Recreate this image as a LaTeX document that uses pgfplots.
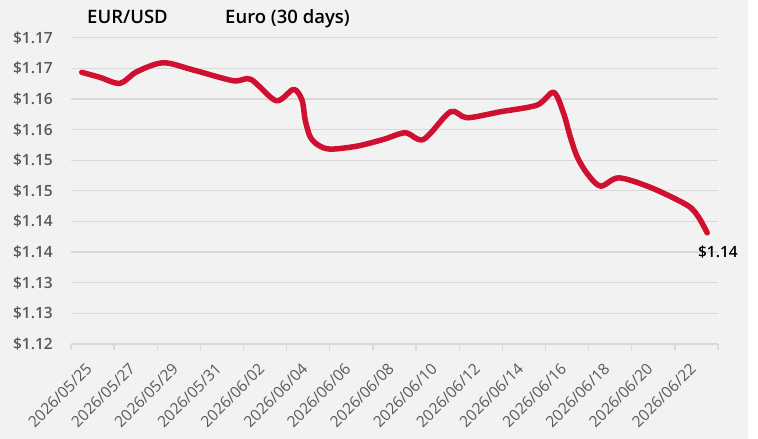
\documentclass[border=0pt]{standalone}
\usepackage{pgfplots}
\pgfplotsset{compat=1.18}
\usepackage{fontspec}
\setmainfont{Open Sans}
\IfFontExistsTF{Open Sans SemiBold}{\newfontfamily\semib{Open Sans SemiBold}}{%
  \IfFontExistsTF{Open Sans Semibold}{\newfontfamily\semib{Open Sans Semibold}}{%
    \newfontfamily\semib{Open Sans}[FakeBold=1.3]}}
\definecolor{bg}{HTML}{F2F2F2}
\definecolor{gridc}{HTML}{D9D9D9}
\definecolor{tickc}{HTML}{595959}
\definecolor{linec}{RGB}{208,16,48}
\begin{document}
\begin{tikzpicture}
\fill[white] (0pt,0pt) rectangle (758pt,439pt);
\fill[bg] (0pt,0pt) rectangle (748pt,439pt);
\path[use as bounding box] (0pt,0pt) rectangle (758pt,439pt);
\begin{axis}[
  at={(71pt,95pt)}, anchor=south west,
  scale only axis, width=647pt, height=306.3pt,
  xmin=0, xmax=30, ymin=1.12, ymax=1.17,
  axis line style={draw=none},
  tick pos=left,
  ymajorgrids, major grid style={draw=gridc, line width=1.3pt},
  ytick={1.12,1.125,1.13,1.135,1.14,1.145,1.15,1.155,1.16,1.165,1.17},
  yticklabels={\$1.12,\$1.13,\$1.13,\$1.14,\$1.14,\$1.15,\$1.15,\$1.16,\$1.16,\$1.17,\$1.17},
  ytick style={draw=none},
  yticklabel style={font=\fontsize{15.5}{18}\selectfont\semib, color=tickc, anchor=east, inner sep=0pt, xshift=-12pt},
  xtick={0,2,...,30},
  xticklabels={2026/05/25,2026/05/27,2026/05/29,2026/05/31,2026/06/02,2026/06/04,2026/06/06,2026/06/08,2026/06/10,2026/06/12,2026/06/14,2026/06/16,2026/06/18,2026/06/20,2026/06/22,{}},
  tick align=outside, major tick length=6pt,
  xtick style={draw=gridc, line width=1.3pt},
  xticklabel style={font=\fontsize{15.5}{18}\selectfont, color=tickc, inner sep=0pt, xshift=14pt, yshift=-12pt, rotate=45, anchor=north east},
  clip=false,
]
\addplot[linec, line width=5.5pt, smooth, line cap=round, line join=round, no markers] coordinates {
(0.50,1.16435)
(1.35,1.16352)
(2.27,1.16255)
(3.05,1.16444)
(4.28,1.16591)
(5.68,1.16472)
(7.53,1.16297)
(8.34,1.16320)
(9.51,1.15971)
(10.32,1.16157)
(10.71,1.15982)
(10.86,1.15655)
(11.09,1.15382)
(11.46,1.15247)
(12.02,1.15181)
(13.26,1.15230)
(14.49,1.15340)
(15.50,1.15448)
(16.35,1.15340)
(17.59,1.15791)
(18.36,1.15693)
(19.91,1.15791)
(21.61,1.15900)
(22.38,1.16108)
(22.84,1.15765)
(23.15,1.15382)
(23.47,1.15056)
(23.93,1.14784)
(24.55,1.14577)
(25.40,1.14712)
(26.87,1.14556)
(28.57,1.14266)
(29.09,1.14075)
(29.50,1.13814)
};
\node[font=\fontsize{15.5}{18}\selectfont\semib, xshift=10.7pt, yshift=-19pt] at (axis cs:29.50,1.13814) {\$1.14};
\end{axis}
\node[anchor=base west, font=\fontsize{18.5}{22}\selectfont\semib, inner sep=0pt] at (87pt,415.7pt) {EUR/USD};
\node[anchor=base west, font=\fontsize{18.5}{22}\selectfont\semib, inner sep=0pt] at (225pt,415.7pt) {Euro (30 days)};
\end{tikzpicture}
\end{document}
